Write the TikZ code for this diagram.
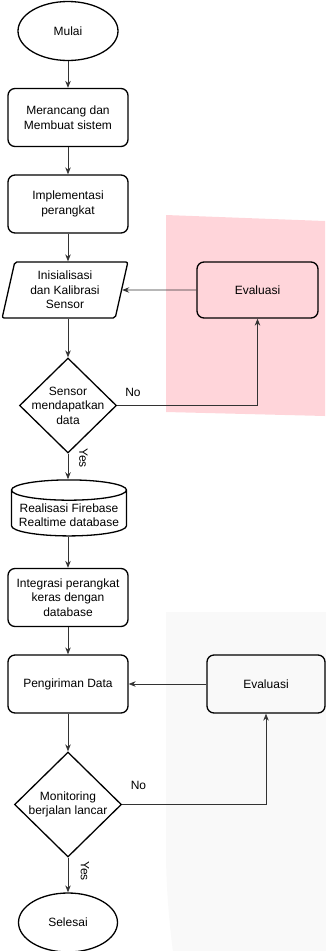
\documentclass[tikz,border=0pt]{standalone}
\usepackage{fontspec}
\setmainfont{Liberation Sans}
\usetikzlibrary{shapes.geometric,arrows.meta}
\definecolor{pinkzone}{HTML}{FFD5DA}
\definecolor{greyzone}{HTML}{F9F9F9}
\begin{document}
\begin{tikzpicture}[x=1pt,y=-1pt,
  font=\fontsize{12}{14.5}\selectfont,
  term/.style={draw, ellipse, line width=1.3pt, minimum width=100pt, minimum height=59pt},
  proc/.style={draw, line width=1.3pt, rounded corners=7pt, minimum width=120pt, minimum height=58pt, align=center},
  io/.style={draw, trapezium, trapezium left angle=77, trapezium right angle=103, trapezium stretches=true, minimum width=126pt, minimum height=56pt, inner sep=0pt, line width=1.3pt, rounded corners=2pt, align=center},
  decision/.style={draw, diamond, line width=1.3pt, inner sep=-20pt, align=center},
  store/.style={draw, cylinder, shape border rotate=90, aspect=0.19, minimum width=115pt, minimum height=56pt, inner ysep=0pt, line width=1.3pt, align=center},
  arr/.style={-{Stealth[length=7pt,width=5.5pt]}, line width=0.8pt, draw=black!80},
  lbl/.style={inner sep=0pt}]
\useasboundingbox (0,0) rectangle (325,951);
\fill[pinkzone] (166,215) -- (325,221) -- (325,416) -- (166,412) -- cycle;
\fill[greyzone] (166,612) -- (330,612) -- (330,960) -- (174,960) .. controls (168,915) and (166,880) .. (166,850) -- cycle;
\node[term] (mulai) at (68,31) {Mulai};
\node[proc] (b1) at (68,117.5) {Merancang dan\\Membuat sistem};
\node[proc] (b2) at (68,204) {Implementasi\\perangkat};
\node[io] (par) at (65,290) {Inisialisasi\\dan Kalibrasi\\Sensor};
\node[proc, minimum width=121pt, minimum height=56pt] (eval1) at (257.5,290) {Evaluasi};
\node[decision, minimum width=97pt, minimum height=95pt] (d1) at (68,405.5) {Sensor\\mendapatkan\\data};
\node[store] (db) at (69,515) {Realisasi Firebase\\Realtime database};
\node[proc] (b3) at (68,597.5) {Integrasi perangkat\\keras dengan\\database};
\node[proc] (b4) at (68,684) {Pengiriman Data};
\node[proc, minimum width=118pt] (eval2) at (266,684) {Evaluasi};
\node[decision, minimum width=107pt, minimum height=105pt] (d2) at (68,804.5) {Monitoring\\berjalan lancar};
\node[term, minimum width=99pt] (selesai) at (68,922.5) {Selesai};
\node[lbl] (no1) at (133,392) {No};
\node[lbl] (no2) at (138.5,785) {No};
\node[lbl, rotate=-90] (yes1) at (83.5,458) {Yes};
\node[lbl, rotate=-90] (yes2) at (85,871) {Yes};
\draw[arr] (mulai) -- (b1);
\draw[arr] (b1) -- (b2);
\draw[arr] (b2) -- (b2 |- par.north);
\draw[arr] (par.south -| d1) -- (d1);
\draw[arr] (d1) -- (d1 |- db.north);
\draw[arr] (db.south -| b3) -- (b3);
\draw[arr] (b3) -- (b4);
\draw[arr] (b4) -- (d2);
\draw[arr] (d2) -- (selesai);
\draw[arr] (d1.east) -| (eval1.south);
\draw[arr] (eval1) -- (par);
\draw[arr] (d2.east) -| (eval2.south);
\draw[arr] (eval2) -- (b4);
\end{tikzpicture}
\end{document}
